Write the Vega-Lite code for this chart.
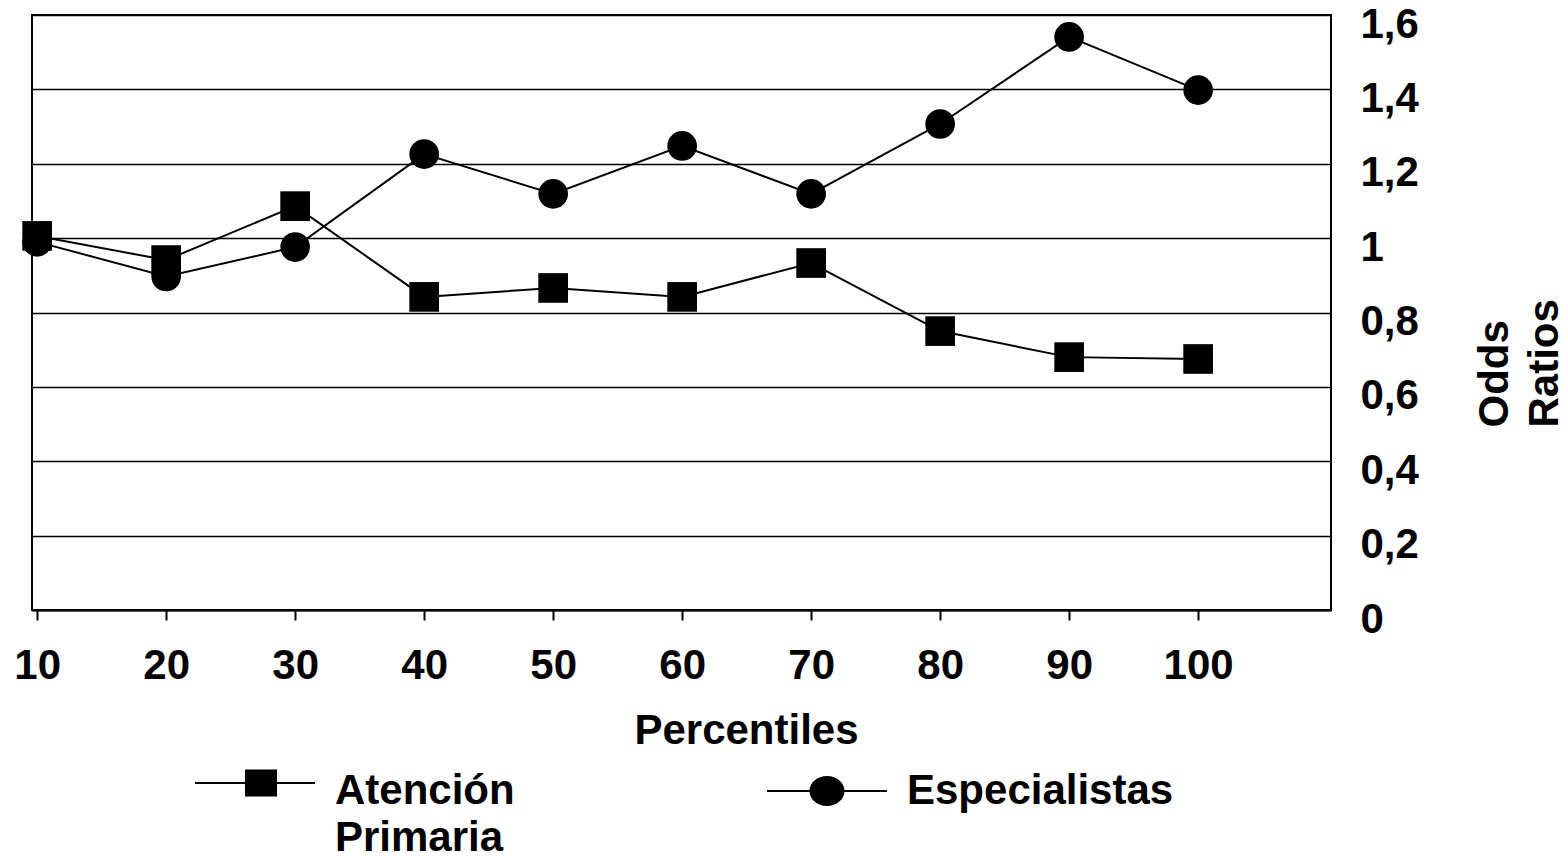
{
  "$schema": "https://vega.github.io/schema/vega-lite/v6.json",
  "width": 1299,
  "height": 595,
  "autosize": {"type": "none"},
  "padding": {"left": 32, "top": 15, "right": 235, "bottom": 246},
  "background": "white",
  "config": {
    "font": "Liberation Sans",
    "view": {"stroke": "black", "strokeWidth": 2},
    "axis": {"labelColor": "black", "titleColor": "black", "labelFont": "Liberation Sans", "titleFont": "Liberation Sans"},
    "legend": {"labelFont": "Liberation Sans"},
    "style": {"guide-label": {"lineHeight": 47}}
  },
  "data": {
    "values": [
      {"percentil": 10, "or": 1.006, "grupo": "Atención Primaria"},
      {"percentil": 20, "or": 0.941, "grupo": "Atención Primaria"},
      {"percentil": 30, "or": 1.086, "grupo": "Atención Primaria"},
      {"percentil": 40, "or": 0.842, "grupo": "Atención Primaria"},
      {"percentil": 50, "or": 0.866, "grupo": "Atención Primaria"},
      {"percentil": 60, "or": 0.842, "grupo": "Atención Primaria"},
      {"percentil": 70, "or": 0.933, "grupo": "Atención Primaria"},
      {"percentil": 80, "or": 0.750, "grupo": "Atención Primaria"},
      {"percentil": 90, "or": 0.680, "grupo": "Atención Primaria"},
      {"percentil": 100, "or": 0.675, "grupo": "Atención Primaria"},
      {"percentil": 10, "or": 0.990, "grupo": "Especialistas"},
      {"percentil": 20, "or": 0.897, "grupo": "Especialistas"},
      {"percentil": 30, "or": 0.976, "grupo": "Especialistas"},
      {"percentil": 40, "or": 1.226, "grupo": "Especialistas"},
      {"percentil": 50, "or": 1.119, "grupo": "Especialistas"},
      {"percentil": 60, "or": 1.248, "grupo": "Especialistas"},
      {"percentil": 70, "or": 1.119, "grupo": "Especialistas"},
      {"percentil": 80, "or": 1.307, "grupo": "Especialistas"},
      {"percentil": 90, "or": 1.541, "grupo": "Especialistas"},
      {"percentil": 100, "or": 1.398, "grupo": "Especialistas"}
    ]
  },
  "encoding": {
    "x": {
      "field": "percentil",
      "type": "quantitative",
      "scale": {"domain": [9.6, 110.3], "nice": false, "zero": false},
      "axis": {
        "values": [10, 20, 30, 40, 50, 60, 70, 80, 90, 100],
        "format": "d",
        "grid": false,
        "domainColor": "black",
        "domainWidth": 2,
        "tickColor": "black",
        "tickWidth": 2,
        "tickSize": 10,
        "labelPadding": 25,
        "labelFontSize": 42,
        "labelFontWeight": "bold",
        "labelFlush": false,
        "labelOverlap": false,
        "labelBaseline": "top",
        "title": "Percentiles",
        "titleFontSize": 42,
        "titleFontWeight": "bold",
        "titleX": 714,
        "titleY": 100,
        "titleAlign": "center",
        "titleBaseline": "top"
      }
    },
    "y": {
      "field": "or",
      "type": "quantitative",
      "scale": {"domain": [0, 1.6], "nice": false, "zero": true},
      "axis": {
        "orient": "right",
        "values": [0, 0.2, 0.4, 0.6, 0.8, 1, 1.2, 1.4, 1.6],
        "labelExpr": "replace(format(datum.value, '.1~f'), '.', ',')",
        "grid": true,
        "gridColor": "black",
        "gridWidth": 1.6,
        "gridOpacity": 1,
        "domain": false,
        "ticks": false,
        "tickSize": 0,
        "labelPadding": 29,
        "labelOffset": 9,
        "labelAlign": "left",
        "labelBaseline": "middle",
        "labelFontSize": 42,
        "labelFontWeight": "bold",
        "labelOverlap": false,
        "labelBound": false,
        "labelFlush": false,
        "title": ["Odds", "Ratios"],
        "titleFontSize": 42,
        "titleFontWeight": "bold",
        "titleAngle": 270,
        "titleAlign": "left",
        "titleBaseline": "alphabetic",
        "titleLineHeight": 50,
        "titleX": 176,
        "titleY": 412
      }
    }
  },
  "resolve": {"scale": {"shape": "independent"}, "legend": {"shape": "independent"}},
  "layer": [
    {
      "mark": {"type": "line", "color": "black", "strokeWidth": 2},
      "encoding": {"detail": {"field": "grupo", "type": "nominal"}}
    },
    {
      "mark": {"type": "point", "filled": true, "color": "black", "opacity": 1, "size": 880},
      "encoding": {
        "shape": {
          "field": "grupo",
          "type": "nominal",
          "scale": {"domain": ["Atención Primaria", "Especialistas"], "range": ["square", "circle"]},
          "legend": null
        }
      }
    },
    {
      "mark": {"type": "point", "filled": true, "color": "black", "size": 0},
      "encoding": {
        "shape": {
          "field": "grupo",
          "type": "nominal",
          "scale": {
            "domain": ["Atención Primaria", "Especialistas"],
            "range": [
              "M-4,-1.47H-0.6V-1.33H-4ZM1.4,-1.47H4V-1.33H1.4ZM-0.67,-2.3H1.47V-0.5H-0.67Z",
              "M-4,-0.94H-1.1V-0.8H-4ZM1.1,-0.94H4V-0.8H1.1ZM-1.17,-0.87A1.17,1,0,1,1,1.17,-0.87A1.17,1,0,1,1,-1.17,-0.87Z"
            ]
          },
          "legend": {
            "orient": "none",
            "legendX": 202,
            "legendY": 768,
            "direction": "horizontal",
            "title": null,
            "padding": 0,
            "labelFontSize": 42,
            "labelFontWeight": "bold",
            "labelColor": "black",
            "labelLimit": 600,
            "labelOffset": 59,
            "labelBaseline": "alphabetic",
            "columnPadding": 250,
            "symbolSize": 900,
            "symbolFillColor": "black",
            "symbolStrokeColor": "black",
            "symbolStrokeWidth": 1,
            "symbolOpacity": 1,
            "labelExpr": "datum.label == 'Atención Primaria' ? ['Atención', 'Primaria'] : [datum.label, '']"
          }
        }
      }
    }
  ]
}
